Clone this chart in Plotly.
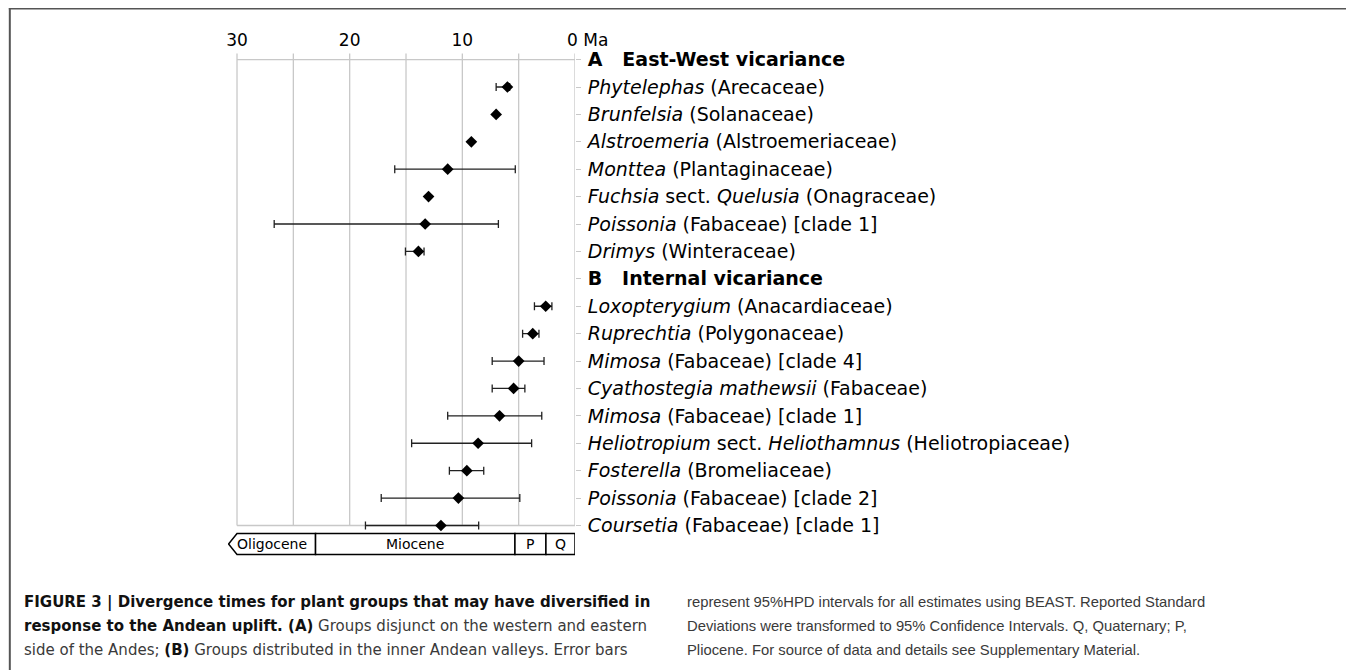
import plotly.graph_objects as go

# page body has an 8px margin: figure origin sits at page (8, 8)
OFF = 8
W, H = 1354 - OFF, 670 - OFF

# ---------------- data ----------------
labels = [
    "<b>A\u00a0\u00a0\u00a0East-West vicariance</b>",
    "<i>Phytelephas</i> (Arecaceae)",
    "<i>Brunfelsia</i> (Solanaceae)",
    "<i>Alstroemeria</i> (Alstroemeriaceae)",
    "<i>Monttea</i> (Plantaginaceae)",
    "<i>Fuchsia</i> sect. <i>Quelusia</i> (Onagraceae)",
    "<i>Poissonia</i> (Fabaceae) [clade 1]",
    "<i>Drimys</i> (Winteraceae)",
    "<b>B\u00a0\u00a0\u00a0Internal vicariance</b>",
    "<i>Loxopterygium</i> (Anacardiaceae)",
    "<i>Ruprechtia</i> (Polygonaceae)",
    "<i>Mimosa</i> (Fabaceae) [clade 4]",
    "<i>Cyathostegia mathewsii</i> (Fabaceae)",
    "<i>Mimosa</i> (Fabaceae) [clade 1]",
    "<i>Heliotropium</i> sect. <i>Heliothamnus</i> (Heliotropiaceae)",
    "<i>Fosterella</i> (Bromeliaceae)",
    "<i>Poissonia</i> (Fabaceae) [clade 2]",
    "<i>Coursetia</i> (Fabaceae) [clade 1]",
]
# row index of each estimate, mean age (Ma), older bound, younger bound
rows   = [1, 2, 3, 4, 5, 6, 7, 9, 10, 11, 12, 13, 14, 15, 16, 17]
ages   = [6.0, 7.0, 9.2, 11.3, 13.0, 13.3, 13.9, 2.6, 3.75, 5.0, 5.45, 6.7, 8.6, 9.6, 10.35, 11.9]
older  = [7.0, 7.0, 9.2, 16.0, 13.0, 26.7, 15.05, 3.6, 4.65, 7.35, 7.35, 11.3, 14.5, 11.15, 17.2, 18.6]
younger= [5.8, 7.0, 9.2, 5.3, 13.0, 6.8, 13.4, 2.05, 3.2, 2.75, 4.45, 2.95, 3.85, 8.1, 4.9, 8.55]

x_ticks = [30, 20, 10, 0]
x_tick_text = ["30", "20", "10", ""]   # "0 Ma" drawn as its own label
grid_vals = [30, 25, 20, 15, 10, 5, 0]

epoch_names = ["Oligocene", "Miocene", "P", "Q"]
epoch_start = [30.0, 23.03, 5.33, 2.58]
epoch_end   = [23.03, 5.33, 2.58, 0.0]

B0, B1 = "<b><span style='color:#111111'>", "</span></b>"
caption_left = [
    B0 + "FIGURE 3 | Divergence times for plant groups that may have diversified in" + B1,
    B0 + "response to the Andean uplift. (A)" + B1 + " Groups disjunct on the western and eastern",
    "side of the Andes; " + B0 + "(B)" + B1 + " Groups distributed in the inner Andean valleys. Error bars",
]
caption_right = [
    "represent 95%HPD intervals for all estimates using BEAST. Reported Standard",
    "Deviations were transformed to 95% Confidence Intervals. Q, Quaternary; P,",
    "Pliocene. For source of data and details see Supplementary Material.",
]

# ---------------- layout geometry (page pixels) ----------------
PL, PR_X, PT, PB_Y = 227.5, 575.0, 50.0, 556.6   # plot-area edges on the page
ML, MT = PL - OFF, PT - OFF
MR, MB = (W + OFF) - PR_X, (H + OFF) - PB_Y
XR = [30.8, 0]
YR = [18.15, -0.35]
pw = PR_X - PL
ph = PB_Y - PT


def px_x(p):
    return (p - PL) / pw


def px_y(p):
    return 1 - (p - PT) / ph


GRID = "#c8c8c8"
FONT = "DejaVu Sans"
TXT = "#3a3a3a"

fig = go.Figure()

fig.add_trace(go.Scatter(
    x=ages, y=rows, mode="markers",
    marker=dict(symbol="diamond", size=9, color="black"),
    error_x=dict(type="data", symmetric=False,
                 array=[o - a for o, a in zip(older, ages)],
                 arrayminus=[a - y for a, y in zip(ages, younger)],
                 color="#222222", thickness=1.3, width=4),
    showlegend=False, hoverinfo="skip",
))

shapes = []
for v in grid_vals:
    shapes.append(dict(type="line", xref="x", yref="y", x0=v, x1=v, y0=-0.22, y1=17,
                       line=dict(color=GRID, width=1.3), layer="below"))
for r in [0, 17]:
    shapes.append(dict(type="line", xref="x", yref="y", x0=30, x1=0, y0=r, y1=r,
                       line=dict(color=GRID, width=1.3), layer="below"))

# geological time scale bar
bt, bb = 17.29, 18.06
bm = (bt + bb) / 2
for i, (n, s, e) in enumerate(zip(epoch_names, epoch_start, epoch_end)):
    if i == 0:
        path = f"M {s + 0.75},{bm} L {s},{bt} L {e},{bt} L {e},{bb} L {s},{bb} Z"
        shapes.append(dict(type="path", xref="x", yref="y", path=path,
                           line=dict(color="black", width=1.5), fillcolor="white"))
    else:
        shapes.append(dict(type="rect", xref="x", yref="y", x0=s, x1=e, y0=bt, y1=bb,
                           line=dict(color="black", width=1.5), fillcolor="white"))

# frame lines (top, left, faint right)
shapes.append(dict(type="line", xref="paper", yref="paper",
                   x0=px_x(8), x1=px_x(1360), y0=px_y(8.5), y1=px_y(8.5),
                   line=dict(color="#555555", width=2)))
shapes.append(dict(type="line", xref="paper", yref="paper",
                   x0=px_x(9), x1=px_x(9), y0=px_y(8), y1=px_y(680),
                   line=dict(color="#555555", width=2)))
shapes.append(dict(type="line", xref="paper", yref="paper",
                   x0=px_x(1353.5), x1=px_x(1353.5), y0=px_y(9), y1=px_y(680),
                   line=dict(color="#e4e4e4", width=1)))

annotations = []
for i, (n, s, e) in enumerate(zip(epoch_names, epoch_start, epoch_end)):
    cx = (s + e) / 2 + (0.35 if i == 0 else 0)
    annotations.append(dict(x=cx, y=bm, xref="x", yref="y", text=n, showarrow=False,
                            font=dict(family=FONT, size=14, color="black"),
                            xanchor="center", yanchor="middle"))

annotations.append(dict(x=0, y=px_y(40), xref="x", yref="paper", text="0 Ma",
                        showarrow=False, xanchor="left", yanchor="middle", xshift=-10,
                        font=dict(family=FONT, size=17, color="black")))

for i, t in enumerate(caption_left):
    annotations.append(dict(x=px_x(21), y=px_y(602 + 24 * i), xref="paper", yref="paper",
                            text=t, showarrow=False, xanchor="left", yanchor="middle",
                            font=dict(family="DejaVu Sans", size=15, color=TXT)))
for i, t in enumerate(caption_right):
    annotations.append(dict(x=px_x(685), y=px_y(602 + 24 * i), xref="paper", yref="paper",
                            text=t, showarrow=False, xanchor="left", yanchor="middle",
                            font=dict(family="Liberation Sans", size=14.8, color=TXT)))

fig.update_layout(
    width=W, height=H,
    margin=dict(l=ML, r=MR, t=MT, b=MB, pad=0),
    paper_bgcolor="white", plot_bgcolor="white",
    shapes=shapes, annotations=annotations,
    xaxis=dict(range=XR, side="top", tickvals=x_ticks, ticktext=x_tick_text,
               showgrid=False, zeroline=False, showline=False, ticks="",
               tickfont=dict(family=FONT, size=17, color="black")),
    yaxis=dict(range=YR, side="right", tickvals=list(range(len(labels))), ticktext=labels,
               showgrid=False, zeroline=False, showline=False,
               ticks="outside", ticklen=5, tickcolor=GRID, tickwidth=1.3,
               ticklabelstandoff=3,
               tickfont=dict(family=FONT, size=19, color="black")),
)

fig.write_html("out.html", post_script="document.documentElement.style.overflow='hidden';"
                                       "document.body.style.overflow='hidden';")
